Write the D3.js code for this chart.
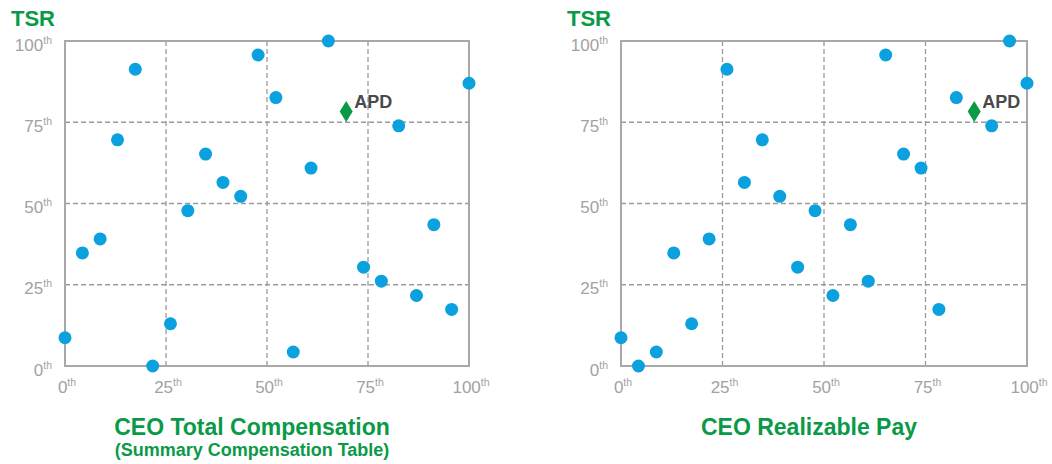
<!DOCTYPE html>
<html>
<head>
<meta charset="utf-8">
<script src="https://cdn.jsdelivr.net/npm/d3@7"></script>
<style>
  html, body { margin: 0; padding: 0; background: #ffffff; }
  svg { display: block; }
</style>
</head>
<body>
<svg id="chart" width="1052" height="464"></svg>
<script>
// ---- data (percentile ranks) ----
const tickValues = [0, 25, 50, 75, 100];
const tickLabels = ["0", "25", "50", "75", "100"];
const tickSuffix = "th";

const leftTitle = "CEO Total Compensation";
const leftSubtitle = "(Summary Compensation Table)";
const leftPayX = [0, 4.3, 8.7, 13, 17.4, 21.7, 26.1, 30.4, 34.8, 39.1, 43.5, 47.8, 52.2, 56.5, 60.9, 65.2, 73.9, 78.3, 82.6, 87, 91.3, 95.7, 100];
const leftTsrY = [8.7, 34.8, 39.1, 69.6, 91.3, 0, 13, 47.8, 65.2, 56.5, 52.2, 95.7, 82.6, 4.3, 60.9, 100, 30.4, 26.1, 73.9, 21.7, 43.5, 17.4, 87];
const leftApd = { label: "APD", x: 69.6, y: 78.3 };

const rightTitle = "CEO Realizable Pay";
const rightPayX = [0, 4.3, 8.7, 13, 17.4, 21.7, 26.1, 30.4, 34.8, 39.1, 43.5, 47.8, 52.2, 56.5, 60.9, 65.2, 69.6, 73.9, 78.3, 82.6, 91.3, 95.7, 100];
const rightTsrY = [8.7, 0, 4.3, 34.8, 13, 39.1, 91.3, 56.5, 69.6, 52.2, 30.4, 47.8, 21.7, 43.5, 26.1, 95.7, 65.2, 60.9, 17.4, 82.6, 73.9, 100, 87];
const rightApd = { label: "APD", x: 87, y: 78.3 };

const yAxisTitle = "TSR";

// ---- styles ----
const GREEN = "#0a9a47";
const BLUE = "#0ba0de";
const GRAY_TEXT = "#a2a2a2";
const FONT = "'Liberation Sans', Arial, sans-serif";

const svg = d3.select("#chart");

function drawPanel(opt) {
  const x = d3.scaleLinear().domain([0, 100]).range([opt.left, opt.right]);
  const y = d3.scaleLinear().domain([0, 100]).range([366, 41]);
  const g = svg.append("g");

  // dashed grid
  const inner = tickValues.filter(v => v > 0 && v < 100);
  g.selectAll(".gx").data(inner).enter().append("line")
    .attr("x1", d => x(d)).attr("x2", d => x(d))
    .attr("y1", y(0)).attr("y2", y(100))
    .attr("stroke", "#9a9a9a").attr("stroke-width", 1.3)
    .attr("stroke-dasharray", "5,3");
  g.selectAll(".gy").data(inner).enter().append("line")
    .attr("y1", d => y(d)).attr("y2", d => y(d))
    .attr("x1", x(0)).attr("x2", x(100))
    .attr("stroke", "#9a9a9a").attr("stroke-width", 1.3)
    .attr("stroke-dasharray", "5,3");

  // frame
  g.append("rect")
    .attr("x", x(0)).attr("y", y(100))
    .attr("width", x(100) - x(0)).attr("height", y(0) - y(100))
    .attr("fill", "none").attr("stroke", "#a8a8a8").attr("stroke-width", 2);

  // y tick labels
  const yl = g.selectAll(".yl").data(tickValues).enter().append("text")
    .attr("x", x(0) - 13).attr("y", d => y(d) + 9.5)
    .attr("text-anchor", "end")
    .attr("font-family", FONT).attr("font-size", 17).attr("fill", GRAY_TEXT);
  yl.append("tspan").text((d, i) => tickLabels[i]);
  yl.append("tspan").attr("font-size", 10.5).attr("dy", -7).text(tickSuffix);

  // x tick labels
  const xl = g.selectAll(".xl").data(tickValues).enter().append("text")
    .attr("x", d => x(d) + 2).attr("y", 393)
    .attr("text-anchor", "middle")
    .attr("font-family", FONT).attr("font-size", 17).attr("fill", GRAY_TEXT);
  xl.append("tspan").text((d, i) => tickLabels[i]);
  xl.append("tspan").attr("font-size", 10.5).attr("dy", -7).text(tickSuffix);

  // peers
  const pts = opt.xs.map((v, i) => ({ x: v, y: opt.ys[i] }));
  g.selectAll(".dot").data(pts).enter().append("circle")
    .attr("cx", d => x(d.x)).attr("cy", d => y(d.y))
    .attr("r", 6.5).attr("fill", BLUE);

  // APD diamond
  const ax = x(opt.apd.x), ay = y(opt.apd.y);
  g.append("path")
    .attr("d", `M${ax},${ay - 10.5}L${ax + 6.5},${ay}L${ax},${ay + 10.5}L${ax - 6.5},${ay}Z`)
    .attr("fill", GREEN);
  g.append("text")
    .attr("x", ax + 8).attr("y", ay - 4)
    .attr("font-family", FONT).attr("font-size", 18).attr("font-weight", "bold")
    .attr("fill", "#4a4a4a").text(opt.apd.label);

  // TSR label
  g.append("text")
    .attr("x", opt.left - 54).attr("y", 26)
    .attr("font-family", FONT).attr("font-size", 22).attr("font-weight", "bold")
    .attr("fill", GREEN).text(yAxisTitle);

  // titles
  g.append("text")
    .attr("x", opt.titleX).attr("y", 435)
    .attr("text-anchor", "middle")
    .attr("font-family", FONT).attr("font-size", 23).attr("font-weight", "bold")
    .attr("fill", GREEN).text(opt.title);
  if (opt.subtitle) {
    g.append("text")
      .attr("x", opt.titleX).attr("y", 456)
      .attr("text-anchor", "middle")
      .attr("font-family", FONT).attr("font-size", 18).attr("font-weight", "bold")
      .attr("fill", GREEN).text(opt.subtitle);
  }
}

drawPanel({ left: 65, right: 469, xs: leftPayX, ys: leftTsrY, apd: leftApd,
  title: leftTitle, subtitle: leftSubtitle, titleX: 252 });
drawPanel({ left: 621, right: 1027, xs: rightPayX, ys: rightTsrY, apd: rightApd,
  title: rightTitle, subtitle: null, titleX: 809 });
</script>
</body>
</html>
